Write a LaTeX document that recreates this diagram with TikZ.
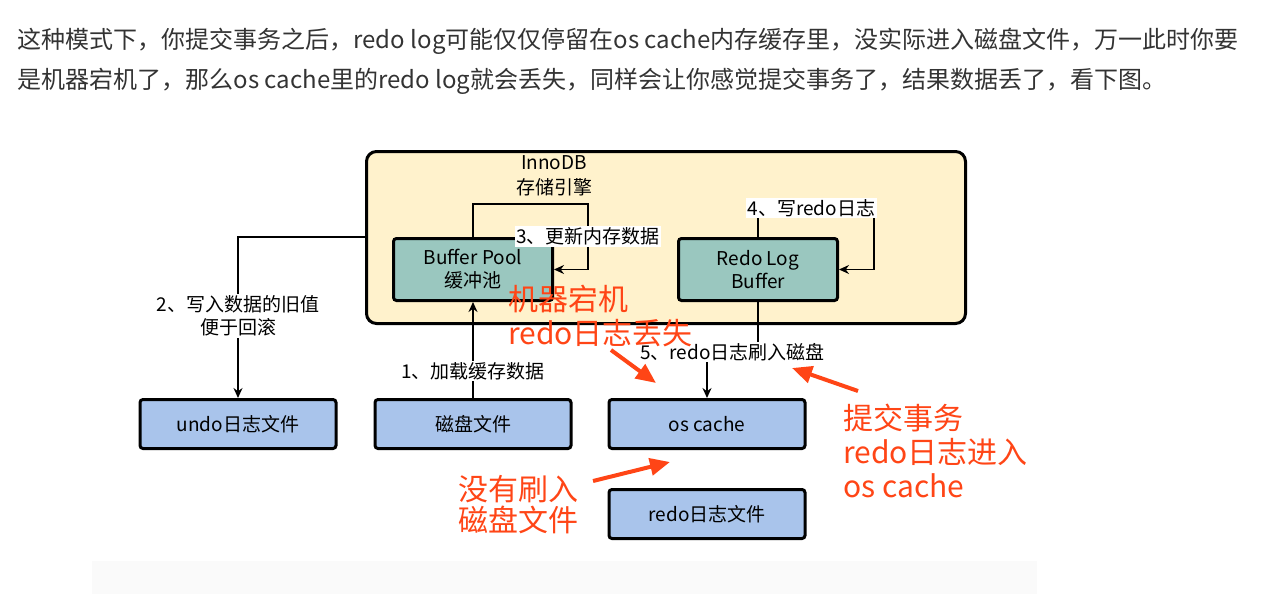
\documentclass[tikz,border=0pt]{standalone}
\usepackage{fontspec}
\setmainfont{Noto Sans CJK SC}
\usepackage{xcolor}
\usepackage{tikz}
\usetikzlibrary{arrows.meta,positioning,calc}

\definecolor{introtext}{HTML}{333333}
\definecolor{enginefill}{HTML}{FFF2CC}
\definecolor{memfill}{HTML}{9AC7BF}
\definecolor{filefill}{HTML}{A9C4EB}
\definecolor{notered}{HTML}{FF4516}

\begin{document}
\begin{tikzpicture}[
x=1pt, y=-1pt,
font=\fontsize{19}{23}\selectfont,
engine/.style={draw, line width=3pt, rounded corners=10pt, fill=enginefill, minimum width=599pt, minimum height=172pt},
mem/.style={draw, line width=3pt, rounded corners=3pt, fill=memfill, minimum width=159pt, minimum height=62pt, align=center, inner sep=0pt},
file/.style={draw, line width=3pt, rounded corners=3pt, fill=filefill, minimum width=196pt, minimum height=49pt, align=center, inner sep=0pt},
lbl/.style={fill=white, inner sep=1.5pt, align=center},
note/.style={text=notered, align=left, inner sep=0pt, font=\fontsize{30}{34}\selectfont},
arr/.style={-{Stealth[length=10pt,width=9pt]}, line width=1.5pt},
redarr/.style={-{Triangle[length=20pt,width=17pt]}, line width=4pt, draw=notered}
]
\useasboundingbox (0,0) rectangle (1287,594);
\fill[black!2] (92,561) rectangle (1037,594);

\node[anchor=west, align=left, text=introtext, font=\fontsize{24}{40}\selectfont] (intro) at (14,61)
{这种模式下，你提交事务之后，redo log可能仅仅停留在os cache内存缓存里，没实际进入磁盘文件，万一此时你要\\
是机器宕机了，那么os cache里的redo log就会丢失，同样会让你感觉提交事务了，结果数据丢了，看下图。};

% engine and its buffers
\node[engine] (inno) at (666,237.5) {};
\node[align=center, font=\fontsize{19}{25}\selectfont] (innotitle) at (554,175.5) {InnoDB\\存储引擎};
\node[mem] (bp) at (473,269.5) {Buffer Pool\\缓冲池};
\node[mem, right=123pt of bp] (redo) {Redo Log\\Buffer};

% files on disk
\node[file, below=96pt of bp] (disk) {磁盘文件};
\node[file, left=36pt of disk] (undo) {undo日志文件};
\node[file, right=35pt of disk] (oscache) {os cache};
\node[file, below=38pt of oscache] (redofile) {redo日志文件};

\coordinate (loop3) at (588,204);
\coordinate (loop4) at (874,208);

\draw[arr] (disk.north) -- node[lbl, pos=0.28]{1、加载缓存数据} (bp.south);
\draw[arr] (bp.north -| inno.west) -| node[lbl, pos=0.745]{2、写入数据的旧值\\便于回滚} (undo.north);
\draw[arr] (bp.north) |- (loop3) |- node[lbl, pos=0.25]{3、更新内存数据} (bp.east);
\draw[arr] (redo.north) |- node[lbl, pos=0.73]{4、写redo日志} (loop4) |- (redo.east);
\draw[arr] (redo.south) -- ++(0,50) -| node[lbl, pos=0.25]{5、redo日志刷入磁盘} (oscache.north);

% red notes
\node[note, anchor=west] (lost) at (508,316) {机器宕机\\redo日志丢失};
\node[note, anchor=west] (commit) at (843,451) {提交事务\\redo日志进入\\os cache};
\node[note, anchor=west, font=\fontsize{30}{31}\selectfont] (noflush) at (458,505) {没有刷入\\磁盘文件};

\coordinate (lostTail) at (611,350);
\coordinate (lostTip) at (656,383);
\coordinate (commitTail) at (858,391);
\coordinate (commitTip) at (792,368);
\coordinate (noflushTail) at (593,481);
\coordinate (noflushTip) at (670,462);

\draw[redarr] (lostTail) -- (lostTip);
\draw[redarr] (commitTail) -- (commitTip);
\draw[redarr] (noflushTail) -- (noflushTip);
\end{tikzpicture}
\end{document}
